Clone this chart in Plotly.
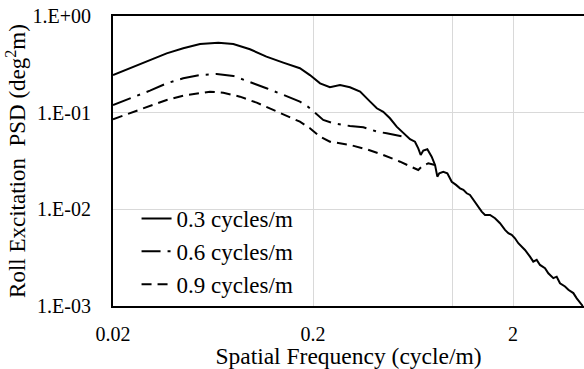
import plotly.graph_objects as go

# Series: 0.3 cycles/m (solid)
f_03 = [0.020, 0.0253, 0.0306, 0.0371, 0.0449, 0.0545, 0.0672, 0.0799, 0.0968, 0.117,
        0.142, 0.172, 0.193, 0.217, 0.243, 0.273, 0.306, 0.344, 0.386, 0.417,
        0.449, 0.485, 0.524, 0.566, 0.611, 0.647, 0.672, 0.691, 0.712, 0.746,
        0.784, 0.815, 0.837, 0.856, 0.896, 0.939, 0.988, 1.038, 1.087, 1.129,
        1.174, 1.219, 1.266, 1.317, 1.395, 1.449, 1.535, 1.626, 1.722, 1.824,
        1.895, 1.970, 2.046, 2.126, 2.210, 2.296, 2.432, 2.526, 2.627, 2.729,
        2.891, 3.003, 3.182, 3.308, 3.436, 3.640, 3.782, 4.007, 4.166, 4.327, 4.463]
p_03 = [0.245, 0.299, 0.351, 0.411, 0.463, 0.513, 0.530, 0.513, 0.453, 0.380,
        0.329, 0.288, 0.245, 0.201, 0.183, 0.193, 0.183, 0.165, 0.130, 0.111,
        0.102, 0.0875, 0.0716, 0.0612, 0.0531, 0.0501, 0.0428, 0.0365, 0.0405, 0.0418,
        0.0351, 0.0288, 0.0218, 0.0236, 0.0245, 0.0236, 0.0193, 0.0179, 0.0165, 0.0159,
        0.01466, 0.0141, 0.0125, 0.01111, 0.00947, 0.00875, 0.00875, 0.00809, 0.00718, 0.00612,
        0.00566, 0.00544, 0.00502, 0.00446, 0.00411, 0.00380, 0.00324, 0.00288, 0.00300, 0.00266,
        0.00246, 0.00218, 0.00194, 0.00201, 0.00172, 0.00159, 0.00147, 0.00136, 0.00120, 0.00107, 0.00100]

# Series: 0.6 cycles/m (dash-dot)
f_06 = [0.020, 0.0253, 0.0306, 0.0371, 0.0449, 0.0545, 0.066, 0.0799, 0.0968, 0.117,
        0.142, 0.172, 0.189, 0.205, 0.225, 0.253, 0.306, 0.357, 0.417, 0.467, 0.524, 0.577]
p_06 = [0.120, 0.144, 0.169, 0.201, 0.227, 0.245, 0.251, 0.240, 0.209, 0.179,
        0.153, 0.130, 0.115, 0.0986, 0.0841, 0.0777, 0.0728, 0.0706, 0.0637, 0.0612, 0.0588, 0.0561]

# Series: 0.9 cycles/m (dashed)
f_09 = [0.020, 0.0253, 0.0306, 0.0371, 0.0449, 0.0545, 0.0611, 0.0712, 0.0863, 0.1046,
        0.1266, 0.1478, 0.172, 0.193, 0.217, 0.243, 0.273, 0.306, 0.371, 0.449,
        0.545, 0.611, 0.672, 0.699, 0.754, 0.815]
p_09 = [0.0855, 0.1024, 0.1173, 0.1353, 0.150, 0.161, 0.165, 0.161, 0.1464, 0.1269,
        0.1067, 0.0910, 0.0807, 0.0690, 0.0565, 0.0501, 0.0483, 0.0464, 0.0418, 0.0365,
        0.0311, 0.0277, 0.0255, 0.0277, 0.0300, 0.0288]

series_names = ["0.3 cycles/m", "0.6 cycles/m", "0.9 cycles/m"]

x_tickvals = [0.02, 0.2, 2]
x_ticktext = ["0.02", "0.2", "2"]
y_tickvals = [1, 0.1, 0.01, 0.001]
y_ticktext = ["1.E+00", "1.E-01", "1.E-02", "1.E-03"]

FONT = "Liberation Serif"

fig = go.Figure()
fig.add_trace(go.Scatter(x=f_03, y=p_03, mode="lines", name=series_names[0],
                         line=dict(color="black", width=2)))
fig.add_trace(go.Scatter(x=f_06, y=p_06, mode="lines", name=series_names[1],
                         line=dict(color="black", width=2, dash="19px,7px,3px,7px")))
fig.add_trace(go.Scatter(x=f_09, y=p_09, mode="lines", name=series_names[2],
                         line=dict(color="black", width=2, dash="10px,6px")))

fig.update_layout(
    width=584, height=369,
    margin=dict(l=113, r=0, t=16, b=63),
    paper_bgcolor="white", plot_bgcolor="white",
    font=dict(family=FONT, color="black", size=20),
    showlegend=True,
    legend=dict(x=0.05, y=0.0, xanchor="left", yanchor="bottom",
                bgcolor="rgba(0,0,0,0)", font=dict(size=23, family=FONT, color="black"),
                tracegroupgap=0),
    xaxis=dict(type="log", range=[-1.69897, 0.656],
               tickvals=x_tickvals, ticktext=x_ticktext,
               showgrid=True, gridcolor="#d9d9d9", gridwidth=1,
               showline=True, linecolor="black", linewidth=2, mirror=True,
               ticks="", ticklabelstandoff=9,
               tickfont=dict(size=20, family=FONT, color="black"),
               minor=dict(tickvals=[1], showgrid=True, gridcolor="#d9d9d9", gridwidth=1),
               title=dict(text="Spatial Frequency (cycle/m)", font=dict(size=23.5, family=FONT, color="black"), standoff=7),
               zeroline=False),
    yaxis=dict(type="log", range=[-3, 0],
               tickvals=y_tickvals, ticktext=y_ticktext,
               showgrid=True, gridcolor="#d9d9d9", gridwidth=1,
               showline=True, linecolor="black", linewidth=2,
               ticks="", ticklabelstandoff=16,
               tickfont=dict(size=20, family=FONT, color="black"),
               title=dict(text="Roll Excitation  PSD (deg<sup>2</sup>m)", font=dict(size=23, family=FONT, color="black"), standoff=0),
               zeroline=False),
)

fig.write_html("out.html")
